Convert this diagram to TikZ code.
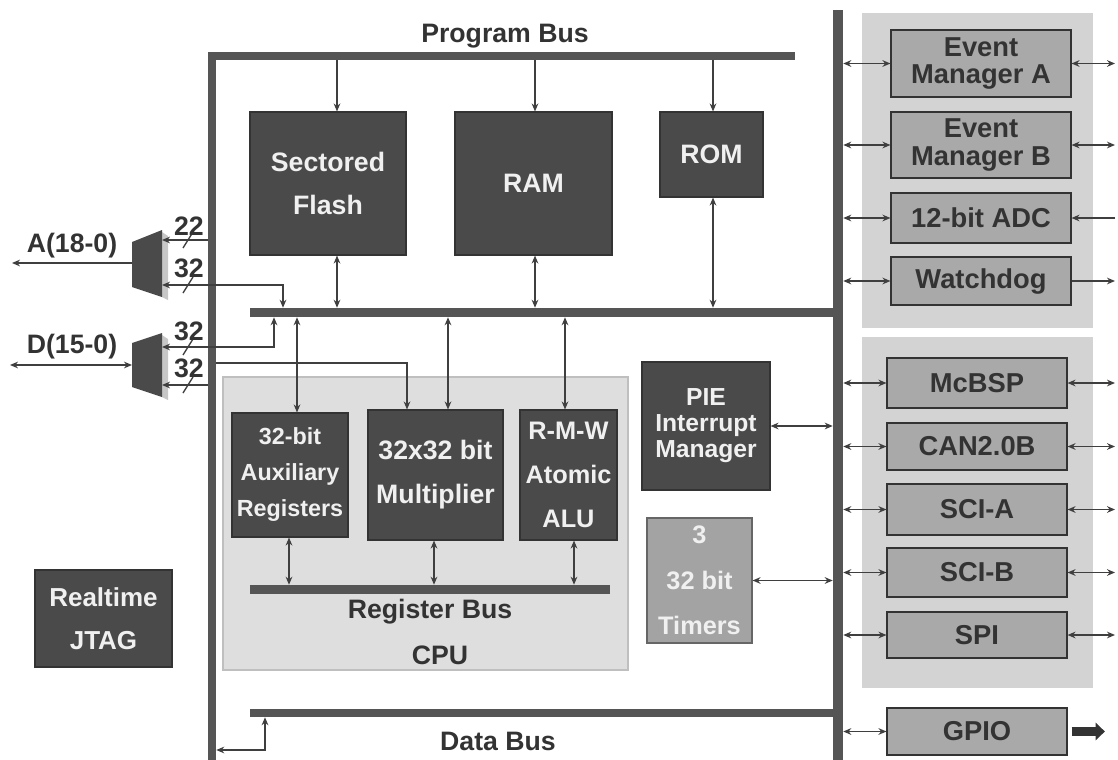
\documentclass[tikz,border=0pt]{standalone}
\usepackage{fontspec}
\setmainfont{Liberation Sans}
\usetikzlibrary{fit,arrows.meta}
\definecolor{darkbox}{HTML}{4A4A4A}
\definecolor{darkline}{HTML}{333333}
\definecolor{busc}{HTML}{555555}
\definecolor{perif}{HTML}{A9A9A9}
\definecolor{grpbg}{HTML}{D3D3D3}
\definecolor{cpubg}{HTML}{DEDEDE}
\definecolor{txt}{HTML}{333333}
\definecolor{arrc}{HTML}{3F3F3F}
\tikzset{
  fnt/.style={font=\fontsize{20}{#1}\selectfont\bfseries},
  dk/.style={draw=darkline, line width=0.8pt, fill=darkbox, inner sep=0pt},
  dkt/.style={text=white!94!black, inner sep=0pt, align=center},
  pb/.style={draw=darkline, line width=0.8pt, fill=perif, inner sep=0pt},
  pbt/.style={text=txt, inner sep=0pt, align=center, font=\fontsize{20.5}{20.5}\selectfont\bfseries},
  grp/.style={fill=grpbg, inner sep=0pt},
  bus/.style={fill=busc, inner sep=0pt},
  arr/.style={draw=arrc, line width=1.1pt, -{Stealth[length=6pt,width=5pt]}},
  darr/.style={draw=arrc, line width=1.1pt, {Stealth[length=6pt,width=5pt]}-{Stealth[length=6pt,width=5pt]}},
  lbl/.style={text=txt, inner sep=0pt, fnt=22},
  slash/.style={draw=arrc, line width=1pt}
}
\begin{document}
\begin{tikzpicture}[x=0.75pt,y=-0.75pt]
\useasboundingbox (0,0) rectangle (1118,760);
% backgrounds
\node[grp, fit={(862,13) (1093,328)}] (grp1) {};
\node[grp, fit={(862,337) (1093,688)}] (grp2) {};
\node[fill=cpubg, draw=black!25, line width=0.8pt, inner sep=0pt, fit={(223,377) (628,670)}] (cpu) {};
% buses
\node[bus, fit={(208,52) (216,760)}] (lbus) {};
\node[bus, fit={(208,52) (795,60)}] (pbus) {};
\node[bus, fit={(250,308) (838,317)}] (mbus) {};
\node[bus, fit={(833,10) (843,760)}] (rbus) {};
\node[bus, fit={(250,709) (838,717)}] (dbus) {};
\node[bus, fit={(250,585) (610,594)}] (regbus) {};
% labels
\node[lbl] (lpb) at (505,36) {Program Bus};
\node[lbl] (ldb) at (498,741) {Data Bus};
\node[lbl] (lrb) at (430,612) {Register Bus};
\node[lbl] (lcpu) at (440,655) {CPU};
% memory blocks
\node[dk, fit={(250,112) (406,255)}] (flash) {};
\node[dkt, fnt=32] (flasht) at (flash.center) {Sectored\\Flash};
\node[dk, fit={(455,112) (612,255)}] (ram) {};
\node[dkt, fnt=22] (ramt) at (ram.center) {RAM};
\node[dk, fit={(660,112) (763,197)}] (rom) {};
\node[dkt, fnt=22] (romt) at (rom.center) {ROM};
% cpu blocks
\node[dk, fit={(232,413) (348,537)}] (aux) {};
\node[dkt, font=\fontsize{17.5}{27}\selectfont\bfseries] (auxt) at (aux.center) {32-bit\\Auxiliary\\Registers};
\node[dk, fit={(368,410) (503,540)}] (mult) {};
\node[dkt, fnt=33] (multt) at (mult.center) {32x32 bit\\Multiplier};
\node[dk, fit={(520,410) (617,540)}] (alu) {};
\node[dkt, font=\fontsize{19}{33}\selectfont\bfseries] (alut) at (alu.center) {R-M-W\\Atomic\\ALU};
\node[dk, fit={(642,362) (770,490)}] (pie) {};
\node[dkt, font=\fontsize{18.5}{19.5}\selectfont\bfseries] (piet) at (pie.center) {PIE\\Interrupt\\Manager};
\node[draw=black!60, line width=0.8pt, fill=black!36, inner sep=0pt, fit={(647,518) (752,643)}] (tim) {};
\node[dkt, font=\fontsize{19}{34}\selectfont\bfseries] (timt) at (tim.center) {3\\32 bit\\Timers};
\node[dk, fit={(35,570) (172,667)}] (jtag) {};
\node[dkt, font=\fontsize{19.5}{32}\selectfont\bfseries] (jtagt) at (jtag.center) {Realtime\\JTAG};
% peripherals
\node[pb, fit={(891,30) (1071,97)}] (ema) {};
\node[pbt] (emat) at (ema.center) {Event\\Manager A};
\node[pb, fit={(891,112) (1071,178)}] (emb) {};
\node[pbt] (embt) at (emb.center) {Event\\Manager B};
\node[pb, fit={(891,193) (1071,243)}] (adc) {};
\node[pbt] (adct) at (adc.center) {12-bit ADC};
\node[pb, fit={(891,257) (1071,305)}] (wd) {};
\node[pbt] (wdt) at (wd.center) {Watchdog};
\node[pb, fit={(887,358) (1067,408)}] (mcbsp) {};
\node[pbt] (mcbspt) at (mcbsp.center) {McBSP};
\node[pb, fit={(887,423) (1067,470)}] (can) {};
\node[pbt] (cant) at (can.center) {CAN2.0B};
\node[pb, fit={(887,484) (1067,535)}] (scia) {};
\node[pbt] (sciat) at (scia.center) {SCI-A};
\node[pb, fit={(887,548) (1067,597)}] (scib) {};
\node[pbt] (scibt) at (scib.center) {SCI-B};
\node[pb, fit={(887,612) (1067,658)}] (spi) {};
\node[pbt] (spit) at (spi.center) {SPI};
\node[pb, fit={(887,708) (1067,755)}] (gpio) {};
\node[pbt] (gpiot) at (gpio.center) {GPIO};
% multiplexers
\fill[black!22] (162,232) -- (168,236) -- (168,300) -- (162,297) -- cycle;
\fill[darkbox] (132,242) -- (162,230) -- (162,297) -- (132,287) -- cycle;
\fill[black!22] (162,335) -- (168,339) -- (168,400) -- (162,397) -- cycle;
\fill[darkbox] (132,343) -- (162,333) -- (162,397) -- (132,387) -- cycle;
\coordinate (mA1) at (162,240);
\coordinate (mA2) at (162,285);
\coordinate (mAo) at (132,263);
\coordinate (mD1) at (162,347);
\coordinate (mD2) at (162,385);
\coordinate (mDo) at (132,365);
\coordinate (aEnd) at (12,263);
\coordinate (dEnd) at (10,365);
\node[lbl] (lA) at (72,246) {A(18-0)};
\node[lbl] (lD) at (72,347) {D(15-0)};
% column helpers
\coordinate (cF) at (337,0);
\coordinate (cR) at (535,0);
\coordinate (cO) at (713,0);
\coordinate (cAux) at (297,0);
\coordinate (cMul) at (448,0);
\coordinate (cAlu) at (565,0);
\coordinate (cMa) at (283,0);
\coordinate (cMd) at (274,0);
\coordinate (cMm) at (407,0);
\coordinate (cJ) at (265,0);
\coordinate (rA) at (289,0);
\coordinate (rM) at (434,0);
\coordinate (rL) at (574,0);
\coordinate (lm) at (0,363);
\coordinate (dl) at (0,750);
\coordinate (rEnd) at (1115,0);
% program bus to memories
\draw[arr] (cF |- pbus.south) -- (cF |- flash.north);
\draw[arr] (cR |- pbus.south) -- (cR |- ram.north);
\draw[arr] (cO |- pbus.south) -- (cO |- rom.north);
% memories to middle bus
\draw[darr] (cF |- flash.south) -- (cF |- mbus.north);
\draw[darr] (cR |- ram.south) -- (cR |- mbus.north);
\draw[darr] (cO |- rom.south) -- (cO |- mbus.north);
% middle bus to cpu blocks
\draw[darr] (cAux |- mbus.south) -- (cAux |- aux.north);
\draw[darr] (cMul |- mbus.south) -- (cMul |- mult.north);
\draw[darr] (cAlu |- mbus.south) -- (cAlu |- alu.north);
\draw[arr] (lbus.east |- lm) -| (cMm |- mult.north);
% cpu blocks to register bus
\draw[darr] (rA |- aux.south) -- (rA |- regbus.north);
\draw[darr] (rM |- mult.south) -- (rM |- regbus.north);
\draw[darr] (rL |- alu.south) -- (rL |- regbus.north);
% mux connections
\draw[arr] (lbus.west |- mA1) -- (mA1);
\draw[darr] (mA2) -| (cMa |- mbus.north);
\draw[darr] (mD1) -| (cMd |- mbus.south);
\draw[arr] (lbus.west |- mD2) -- (mD2);
\draw[arr] (mAo) -- (aEnd);
\draw[darr] (mDo) -- (dEnd);
% bus width marks
\draw[slash] (183,248) -- (193,232);
\draw[slash] (183,293) -- (193,277);
\draw[slash] (183,355) -- (193,339);
\draw[slash] (183,393) -- (193,377);
\node[lbl] (n22) at (189,226) {22};
\node[lbl] (n32a) at (189,268) {32};
\node[lbl] (n32b) at (189,331) {32};
\node[lbl] (n32c) at (189,368) {32};
% data bus link
\draw[darr] (lbus.east |- dl) -| (cJ |- dbus.south);
% PIE and timers
\draw[darr] (pie.east) -- (pie.east -| rbus.west);
\draw[darr] (tim.east) -- (tim.east -| rbus.west);
% peripherals left
\foreach \p in {ema,emb,adc,wd,mcbsp,can,scia,scib,spi,gpio}
  \draw[darr] (rbus.east |- \p.west) -- (\p.west);
% peripherals right
\foreach \p in {ema,emb,mcbsp,can,scia,scib,spi}
  \draw[darr] (\p.east) -- (\p.east -| rEnd);
\draw[arr] (adc.east -| rEnd) -- (adc.east);
\draw[arr] (wd.east) -- (wd.east -| rEnd);
\draw[darkline, line width=7pt, -{Triangle[length=7pt,width=13pt]}] ([xshift=3pt]gpio.east) -- ([xshift=28pt]gpio.east);
\end{tikzpicture}
\end{document}
